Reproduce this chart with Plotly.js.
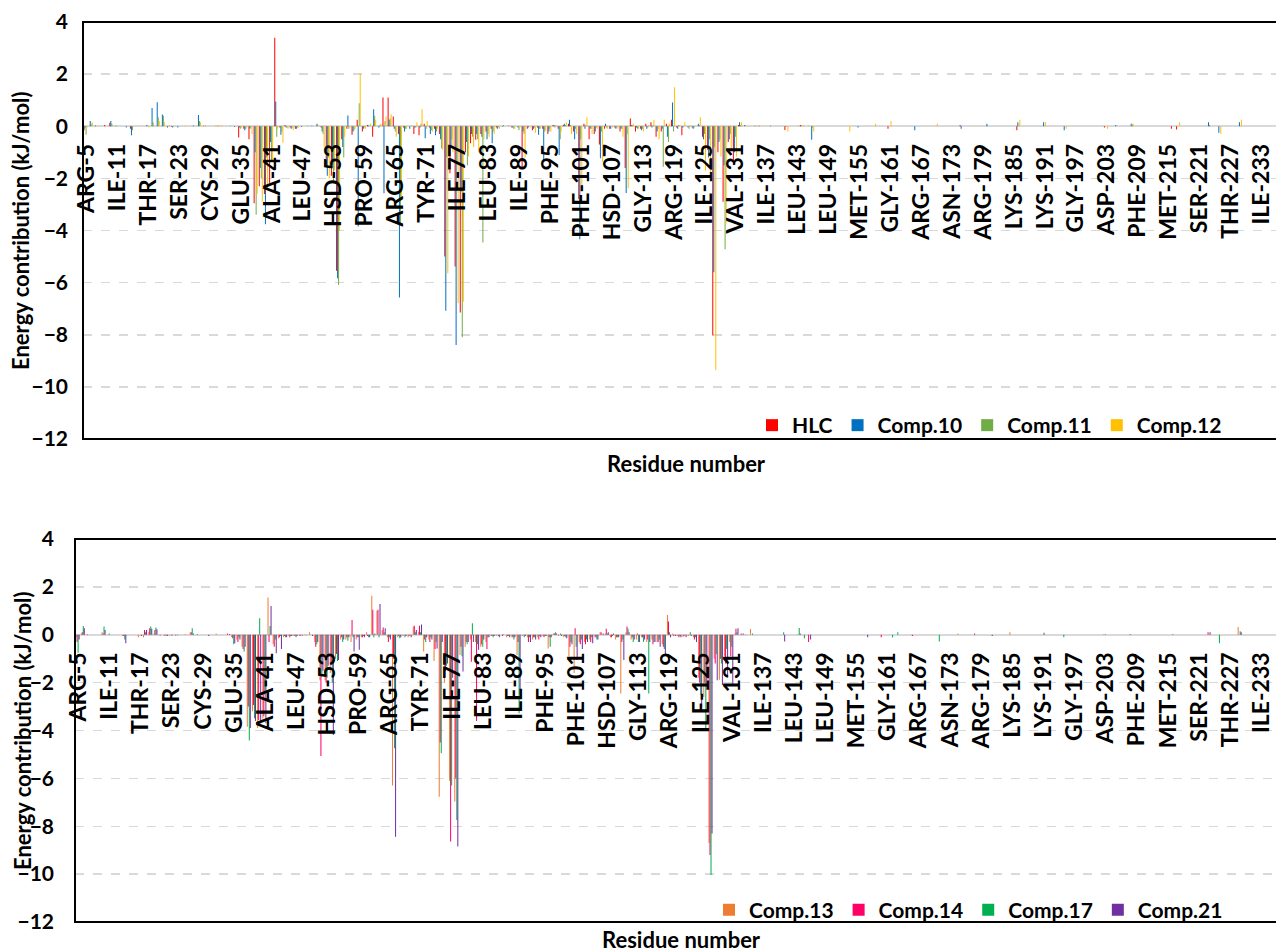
<!DOCTYPE html>
<html>
<head>
<meta charset="utf-8">
<script src="https://cdn.plot.ly/plotly-3.0.1.min.js"></script>
<style>html,body{margin:0;padding:0;background:#fff;}#chart{width:1276px;height:952px;}</style>
</head>
<body>
<div id="chart"></div>
<script>
// Residue index runs from 5 to 235 (category axis)
const firstResidue = 5, lastResidue = 235;
const residues = [];
for (let r = firstResidue; r <= lastResidue; r++) residues.push(r);

// Tick labels shown every 6th residue
const tickLabels = ["ARG-5","ILE-11","THR-17","SER-23","CYS-29","GLU-35","ALA-41","LEU-47","HSD-53","PRO-59",
  "ARG-65","TYR-71","ILE-77","LEU-83","ILE-89","PHE-95","PHE-101","HSD-107","GLY-113","ARG-119",
  "ILE-125","VAL-131","ILE-137","LEU-143","LEU-149","MET-155","GLY-161","ARG-167","ASN-173","ARG-179",
  "LYS-185","LYS-191","GLY-197","ASP-203","PHE-209","MET-215","SER-221","THR-227","ILE-233"];
const tickValues = tickLabels.map(s => Number(s.split("-")[1]));

// ---------- Top panel (kJ/mol), residues 5..235 ----------
const HLC = [
 -0.15,0,0,0,0.05,0.13,0,0,0,-0.1,            // 5-14
 0,0,0,0,0,0,0,-0.03,0,0,                       // 15-24
 0,0,0,0,0,0,0.02,0,0,0,                        // 25-34
 -0.43,-0.1,-0.5,-2.95,-2.3,-2.6,-2.2,3.4,-0.05,0.05, // 35-44
 -0.05,-0.1,0,0,0,0,-0.05,-1.5,-1.9,-5.54,      // 45-54
 -0.5,-0.1,-0.33,0.25,-0.2,0.05,-0.4,0,1.1,1.1, // 55-64
 0.37,-0.3,-0.05,0,-0.3,-0.35,0.1,-0.05,-0.1,-0.3, // 65-74
 -5.0,-1.8,-5.38,-7.15,-1.0,-0.65,-0.52,-0.3,-0.2,-0.1, // 75-84
 -0.05,0,0,-0.05,0,-1.6,-0.1,-0.15,-0.05,-0.1,  // 85-94
 -0.3,0.05,-0.1,0.05,0.1,-0.2,-2.8,0.1,-0.5,-0.3, // 95-104
 -0.7,-0.1,-0.1,-0.05,-0.2,-1.6,0.3,-0.2,-0.1,0.1, // 105-114
 0.15,-0.4,-0.2,0.1,0.25,-0.05,-0.35,0,-0.05,0,  // 115-124
 -0.4,-0.9,-8.03,-1.0,-2.9,-0.6,-1.35,0.05,0,0,  // 125-134
 0,0.02,0,0,0,0,-0.14,0,0,0.05,                  // 135-144
 0,0,0,0,0,0,0,0,0,0,                            // 145-154
 0,0,0,0,0,0,-0.1,0,0,0,                         // 155-164
 0,0,0,0,0,0,0,0,0,0,                            // 165-174
 0.05,0,0,0,0,0,0,0,0,0,                         // 175-184
 0,-0.15,0,0,0,0,0,0,0,0,                        // 185-194
 0,0,0,0,0,0,0,0,-0.05,0,                        // 195-204
 0,0,0,0,0,0,0,0,0,0,                            // 205-214
 0,-0.1,-0.12,0,0,0,0,0,0,0,                     // 215-224
 0,0,0,0,0,0,0,0,0,0,                            // 225-234
 0                                               // 235
];
const COMP10 = [
 -0.05,0.2,0.03,0,0,0.2,0.02,0,-0.05,-0.35,
 0,0,0.05,0.7,0.92,0.45,-0.05,-0.05,-0.05,0,
 0,0.03,0.43,0.02,0,0,0,0,0,-0.03,
 -0.05,-0.15,-0.1,-1.0,-1.6,-3.76,-0.6,0.95,-0.33,-0.05,
 -0.1,-0.1,-0.03,0,0.02,0.1,-0.2,-1.9,-1.5,-5.83,
 -0.8,0.41,-0.2,-3.85,-0.1,0.03,0.65,-0.05,-2.57,0.25,
 -0.1,-6.57,-0.2,-0.1,-0.05,-0.05,-0.46,-0.3,-0.35,-0.5,
 -7.08,-0.8,-8.39,-2.5,-0.6,-0.3,-0.3,-0.4,-0.5,-0.65,
 -0.1,-0.02,0,-0.05,-0.05,-0.2,-0.05,-0.1,-0.33,-1.3,
 -0.2,0.05,-1.1,0.1,0.25,-0.5,-4.34,-0.1,-0.1,-0.2,
 -1.23,0.1,-0.1,-0.1,-0.1,-2.56,0.05,-0.05,-0.15,-0.1,
 -0.05,-0.2,-0.1,-0.4,0.91,-0.1,-0.05,-0.05,-0.1,0.1,
 -0.5,-1.2,-5.6,-0.6,-1.5,-0.5,-1.0,0.15,0.05,0,
 0.02,0,0,0.02,0,0,-0.02,0,0,0.02,
 0,-0.52,0,0,0,0,0,0,0,0,
 -0.05,0,0,0,0,0,0,0,0,0,
 0,-0.15,0,0,0,0,0,0,0,0,
 -0.1,0,0,0,0,0.1,0,0,0,0,
 0,0.15,0,0,0,0,0.15,0,0,0,
 -0.15,0,0,0,0,0,0,0,0,0,
 0.05,0,0,0.1,0,0,0,0,0,0,
 0,0,0,0,0,0,0,0,0.15,0,
 -0.25,0,0,0,0.15,0,0,0,0,0,
 0
];
const COMP11 = [
 -0.33,0.1,0,0,0,0.1,0,0,0,-0.15,
 0,0,0,0.15,0.35,0.4,0,0,0,0,
 0,0,0.2,0,0,0,0,0,0.02,0,
 -0.1,-0.1,-0.05,-3.4,-2.0,-1.2,-1.3,-0.4,-0.2,-0.05,
 -0.05,-0.05,0,0.02,0,0,-0.3,-1.2,-2.2,-6.09,
 -1.2,-0.1,-0.15,0.88,-0.05,0,0.4,0.05,0.2,0.3,
 -0.2,-3.75,-0.1,0,-0.05,0.1,-0.1,-0.15,-0.2,-0.85,
 -1.2,-0.5,-1.5,-8.1,-1.5,-0.4,-0.5,-4.46,-0.3,-0.2,
 -0.05,0.05,0.03,-0.1,-0.15,-0.3,0,-0.05,-0.1,-0.2,
 -0.1,-0.05,-0.5,0.05,0.05,-0.1,-0.5,0.05,-0.1,-0.05,
 -0.2,-0.05,0,-0.05,-0.1,-0.3,0.05,-0.1,-0.1,-0.05,
 0.05,-0.1,-1.55,-0.6,-0.2,0.05,0,-0.1,-0.05,0.05,
 -0.3,-0.5,-0.8,-0.5,-4.72,-0.3,-0.4,0.05,0,0,
 0,0,0,0,0,0,0,0,0,0,
 0,-0.05,0,0,0,0,0,0,0,0,
 0,0,0,0,0,0,0,0,0,0,
 0,0,0,0,0,0,0,0,0,0,
 0,0,0,0,0,0,0,0,0,0,
 0,0,0,0,0,0,0,0,0,0,
 0,0,0,0,0,0,0,0,0,0,
 0,0,0,0.08,0,0,0,0,0,0,
 0,0,0,0,0,0,0,0,0.05,0,
 0,0,0,0,0,0,0,0,0,0,
 0
];
const COMP12 = [
 -0.05,0.15,0.02,0,0,0.03,0,0,0,0,
 0,0.02,-0.05,0.05,0.2,0.15,0.05,-0.02,0,-0.03,
 0,0,0.15,0.05,0,0.05,0.05,0,0,0,
 -0.05,-0.05,-0.3,-2.6,-2.9,-2.45,-1.3,-0.1,-0.63,-0.1,
 -0.15,-0.05,0,0,0,0.05,-0.8,-2.0,-1.7,-4.0,
 -0.4,-0.05,-0.1,2.03,-0.1,0.1,0.25,0.1,0.37,0.46,
 -0.4,-2.8,-0.1,0.05,0.15,0.65,0.2,-0.2,-0.1,-0.9,
 -5.64,-1.0,-6.79,-6.73,-1.16,-0.8,-1.0,-0.5,-0.4,-0.3,
 -0.1,0,0,-0.1,-0.05,-1.2,-0.05,-0.25,-0.1,-0.15,
 -0.2,0.05,-0.2,0.15,-0.3,-0.3,-2.3,0.35,-0.3,-0.1,
 -1.36,-0.1,-0.05,-0.1,-0.4,-2.38,0.1,-0.1,-0.2,0.05,
 0.25,-0.5,0.25,0.1,1.5,0.05,0.15,0.05,0,0.35,
 -1.7,-1.8,-9.35,-1.16,-3.72,-0.85,-1.16,0.15,0.03,0.02,
 0.02,0.02,0,0,0,0,-0.2,0,0.02,0.05,
 0.03,-0.2,0,0,0,0,0,0,-0.2,0,
 0,0,0,0.1,0,0,0.2,0,0,0,
 0,0,0,0,0,0.1,0,0,0,0,
 0,0,0,0,0,0,0,0,0,0,
 0,0.25,0,0,0,0,0.15,0,0,0,
 -0.1,0,0,0,0,0,0,0,-0.1,0,
 0,0,0,0.1,0,0,0,0,0,0,
 0,0,0.15,0,0,0,0,0,0,0,
 -0.3,0,0,0,0.25,0,0,0,0,0,
 0
];

// ---------- Bottom panel (kJ/mol), residues 5..235 ----------
const COMP13 = [
 -0.1,0.05,0,0,0,0.1,0,0,0,-0.05,
 0,0,-0.1,-0.1,0.1,0.05,0,-0.05,-0.03,0,
 0,0.03,0.1,0,0,0,0,0.05,0,0,
 -0.1,-0.2,-0.5,-3.84,-3.2,-3.9,-3.5,1.56,-0.4,-0.15,
 -0.1,-0.05,-0.05,-0.02,-0.02,0.1,-0.3,-1.9,-1.9,-1.6,
 -1.0,-0.2,-0.2,-0.3,-0.2,-0.1,0.1,1.63,1.0,0.2,
 -0.1,-6.3,-0.1,-0.05,-0.1,0.34,0.1,-0.7,-0.2,-1.1,
 -6.77,-2.0,-6.1,-6.97,-0.85,-0.5,-0.2,-0.3,-0.5,-0.3,
 -0.05,-0.05,0,-0.1,-0.1,-0.85,-0.05,-0.1,-0.2,-0.1,
 -0.05,-0.57,0.05,-0.05,-0.1,-0.9,-1.6,-0.3,-0.3,-0.2,
 -0.1,0.1,0.05,-0.1,-0.2,-2.45,0.1,-0.2,-0.2,-0.1,
 -0.3,-0.2,-0.3,-0.4,0.82,0.05,-0.05,-0.1,-0.05,-0.1,
 -1.8,-2.6,-8.7,-1.0,-1.88,-0.9,-0.3,0.05,0,0.02,
 0.24,0,0,0,0,0,0,0,0,0.02,
 0,0,0,0,0,0,0,0,0,0,
 0,0,0,0,0,0,0,0,0,0,
 0,0,0,0,0,0,0,0,0,0,
 0.05,0,0,0,0,0,0,0,0,0,
 0.1,0,0,0,0,0,0,0,0,0,
 0,0,0,0,0,0,0,0,0.02,0,
 0,0,0,0,0,0,0,0,0,0,
 0,0,0,0,0,0,0,0,0,0,
 0,0,0,0,0.32,0,0,0,0,0,
 0
];
const COMP14 = [
 -0.3,0.1,0.02,0,0,0.05,0,0,0,-0.05,
 0,0,0,0.2,0.27,0.2,-0.03,-0.03,0,-0.03,
 0,0,0.1,0,0,0,0,0,0,0.05,
 -0.15,-0.3,-0.6,-3.0,-2.93,-3.56,-3.4,-0.3,-0.5,-0.1,
 -0.05,-0.1,-0.05,-0.05,0,0,-0.5,-5.07,-2.0,-1.2,
 -0.8,-0.1,-0.1,0.62,-0.1,-0.1,-0.05,1.04,1.04,0.3,
 -0.3,-1.0,-0.05,0,-0.05,0.38,0.38,-0.2,-0.3,-0.6,
 -4.5,-1.5,-8.64,-6.0,-0.5,-0.3,-1.13,-3.6,-0.4,-0.6,
 -0.05,0,-0.05,-0.05,-0.1,-0.3,0,-0.3,-0.1,-0.2,
 -0.1,-0.1,0.05,0,-0.05,-0.5,0.27,-0.4,-0.4,-0.3,
 -0.1,0.1,0.25,-0.1,-0.1,-0.3,0.34,-0.1,0.05,-0.1,
 -0.2,-0.4,-0.3,-0.5,0.55,-0.05,-0.1,-0.05,0,-0.2,
 -2.0,-2.0,-9.2,-1.2,-1.0,-1.2,-0.9,0.25,0.05,0,
 0,0,0,0,0,0,0,0,0,0,
 0,-0.3,0,0,0,0,0,0,0,0,
 0,0,0,0,0,-0.1,0,0,0,0,
 0,-0.05,0,0,0,0,0,0,0,0,
 0,0,0,0.05,0,0,0,0,0,0,
 0,0,0,0,0,0,0,0,0,0,
 0,0,0,0,0,0,0,0,0,0,
 0,0,0,0.03,0,0,0,0,0,0,
 0,0,0,0,0,0,0,0,0.1,0,
 0,0,0,0,0,0,0,0,0,0,
 0
];
const COMP17 = [
 -0.75,0.37,0,0,0,0.34,0.05,0,0,-0.2,
 0,0,0,0.1,0.34,0.3,0,-0.02,-0.03,0,
 0,0,0.27,0.03,0,0,0,0,0,0,
 -0.4,-0.1,-0.7,-4.42,-3.49,0.69,-2.5,0.37,-0.2,-0.05,
 -0.1,-0.05,-0.1,0,-0.02,0,-0.4,-1.75,-1.8,-2.0,
 -1.1,-0.3,-0.25,-0.1,-0.1,-0.05,-0.1,-0.1,-0.1,0.1,
 -0.1,-4.74,-0.15,-0.1,0,0.1,0.1,-0.3,-0.1,-0.3,
 -4.95,-1.3,-6.3,-7.74,-0.9,-0.4,0.48,-0.4,-0.5,-0.1,
 -0.1,-0.05,0.02,-0.05,-0.2,-3.28,-0.1,-0.1,-0.1,-0.05,
 -0.05,-0.5,0.1,0.05,-0.1,-0.3,-0.5,-0.2,-0.2,-0.1,
 -0.2,0,0.05,-0.05,-0.1,-0.2,0.25,-0.3,-0.3,-0.3,
 -2.45,-0.3,-0.2,-0.6,0.1,0,-0.05,0,0.1,-0.1,
 -2.5,-3.98,-10.04,-0.8,-1.2,-0.6,-0.5,0.1,0,0,
 0.05,0,0,0,0,0,0.1,0,0,0.28,
 -0.15,0,0,0,0,0,0,0,0,0,
 0,0,0,0,0,0,0,-0.12,0.1,0,
 0,0,0,0,0,0,-0.28,0,0,0,
 0,0,0,0,0,0,0,0,0,0,
 0,0,0,0,0,0,0,0,0,0,
 -0.1,0,0,0,0,0,0,0,0.03,0,
 0,0,0,0,0,0,0,0,0,0,
 0,0.03,0,0,0,0,0,0,0,0,
 -0.35,0,0,0,0.15,0,0,0,0,0,
 0
];
const COMP21 = [
 -0.2,0.27,0,0,0,0.2,0,0,0,-0.36,
 0,0,-0.05,0.2,0.25,0.23,0,-0.05,-0.02,-0.02,
 0,0,0.05,0,0,-0.05,0,0,0,0.03,
 -0.36,-0.2,-0.5,-3.9,-3.6,-3.7,-3.7,1.2,-0.77,-0.6,
 -0.1,-0.05,-0.05,-0.03,0,-0.05,-0.3,-1.5,-1.3,-4.19,
 -1.05,-0.2,-0.1,-0.7,-0.63,-0.1,-0.1,0.05,1.28,0.27,
 -0.2,-8.44,-0.1,-0.05,-0.1,0.2,0.43,-0.1,-0.2,-0.57,
 -0.3,-1.2,-1.8,-8.85,-1.54,-0.3,-0.3,-0.63,-0.2,-0.1,
 -0.05,-0.1,0,-0.1,-0.1,-2.5,-0.05,-0.3,-0.2,-0.1,
 -0.05,-0.1,0.05,-0.05,-0.15,-0.4,-1.05,-0.6,-0.3,-0.35,
 -0.2,0.05,0.1,0.05,-0.1,-1.05,0.1,-0.2,-0.3,-0.2,
 -0.3,-0.3,-0.5,-0.8,-0.1,-0.05,-0.1,-0.1,-0.05,-0.3,
 -3.07,-2.3,-8.3,-1.9,-2.1,-1.75,-2.1,0.27,0.05,0,
 0,0,0,0,0,0,-0.28,0,0,0.05,
 0,-0.2,0,0,0,0,0,0,0,0,
 0,0,-0.1,0,0,0,0,0,0,0,
 0,0,0,0,0,0,0,0,0,0,
 0,0,0,0,0,0,-0.05,0,0,0,
 0,0,0,0,0,0,0.08,0,0,0,
 0,0,0,0,0,0,0,0,0,0,
 0,0,0,0,0,0,0,0,0,0,
 0,0,0,0,0,0,0,0,0.1,0,
 0,0,0,0,0.1,0,0,0,0,0,
 0
];

const topSeries = [
  {name: "HLC", values: HLC, color: "#FF0000"},
  {name: "Comp.10", values: COMP10, color: "#0070C0"},
  {name: "Comp.11", values: COMP11, color: "#70AD47"},
  {name: "Comp.12", values: COMP12, color: "#FFC000"}
];
const bottomSeries = [
  {name: "Comp.13", values: COMP13, color: "#ED7D31"},
  {name: "Comp.14", values: COMP14, color: "#FF0066"},
  {name: "Comp.17", values: COMP17, color: "#00B050"},
  {name: "Comp.21", values: COMP21, color: "#7030A0"}
];
[...topSeries, ...bottomSeries].forEach(s => {
  if (s.values.length !== residues.length) throw new Error(s.name + " length " + s.values.length);
});

const W = 1276, H = 952;
const px = v => v / W;          // pixel -> paper x
const py = v => 1 - v / H;      // pixel -> paper y
const FONT = "Lato, 'Open Sans', sans-serif";

const traces = [];
topSeries.forEach(s => traces.push({
  type: "bar", x: residues, y: s.values, name: s.name,
  marker: {color: s.color, line: {width: 0}},
  xaxis: "x", yaxis: "y", legend: "legend"
}));
bottomSeries.forEach(s => traces.push({
  type: "bar", x: residues, y: s.values, name: s.name,
  marker: {color: s.color, line: {width: 0}},
  xaxis: "x2", yaxis: "y2", legend: "legend2"
}));

const xTickFont = {family: FONT, size: 23, color: "#000", weight: "bold"};
const yTickFont = {family: FONT, size: 21, color: "#000", weight: "bold"};
function xAxis(left, zeroPx) {
  return {
    domain: [px(left), 1], range: [4.5, 236], anchor: "free", position: py(zeroPx),
    tickmode: "array", tickvals: tickValues, ticktext: tickLabels, tickangle: -90,
    tickfont: xTickFont, ticks: "", showgrid: false, zeroline: false, showline: false,
    ticklabelstandoff: 12, ticklabelshift: 1, ticklabeloverflow: "allow", fixedrange: true
  };
}
function yAxis(topPx, botPx, anchor, standoff) {
  return {
    domain: [py(botPx), py(topPx)], range: [-12, 4], tick0: 0, dtick: 2, anchor: anchor,
    tickfont: yTickFont, ticks: "", showline: false,
    showgrid: true, gridcolor: "#d9d9d9", gridwidth: 1.5, griddash: "dash",
    zeroline: true, zerolinecolor: "#d9d9d9", zerolinewidth: 2,
    ticklabelstandoff: standoff, ticklabeloverflow: "allow", fixedrange: true
  };
}

const legendBase = {
  orientation: "h", xanchor: "left", yanchor: "middle",
  font: {family: FONT, size: 21, color: "#000", weight: "bold"},
  bgcolor: "rgba(0,0,0,0)", borderwidth: 0, traceorder: "normal"
};

const titleFont = {family: FONT, size: 22, color: "#000", weight: "bold"};

const layout = {
  width: W, height: H,
  margin: {l: 0, r: 0, t: 0, b: 0},
  paper_bgcolor: "#fff", plot_bgcolor: "rgba(0,0,0,0)",
  font: {family: FONT, color: "#000"},
  barmode: "group", bargap: 0.22, bargroupgap: 0,
  xaxis: xAxis(83, 126.3),
  yaxis: yAxis(22, 439, "x", 14),
  xaxis2: xAxis(75, 634.8),
  yaxis2: yAxis(539, 922, "x2", 20),
  legend: Object.assign({}, legendBase, {x: px(752), y: py(425.5)}),
  legend2: Object.assign({}, legendBase, {x: px(709), y: py(910)}),
  shapes: [
    {type: "rect", xref: "paper", yref: "paper", x0: px(83), x1: 1.02, y0: py(439), y1: py(22),
     line: {color: "#000", width: 2}, fillcolor: "rgba(0,0,0,0)", layer: "above"},
    {type: "rect", xref: "paper", yref: "paper", x0: px(75), x1: 1.02, y0: py(922), y1: py(539),
     line: {color: "#000", width: 2}, fillcolor: "rgba(0,0,0,0)", layer: "above"}
  ],
  annotations: [
    {text: "Residue number", xref: "paper", yref: "paper", x: px(686), y: py(463),
     showarrow: false, font: titleFont, xanchor: "center", yanchor: "middle"},
    {text: "Residue number", xref: "paper", yref: "paper", x: px(681), y: py(939),
     showarrow: false, font: titleFont, xanchor: "center", yanchor: "middle"},
    {text: "Energy contribution (kJ/mol)", xref: "paper", yref: "paper", x: px(20), y: py(231),
     showarrow: false, font: titleFont, textangle: -90, xanchor: "center", yanchor: "middle"},
    {text: "Energy contribution (kJ/mol)", xref: "paper", yref: "paper", x: px(22), y: py(731),
     showarrow: false, font: titleFont, textangle: -90, xanchor: "center", yanchor: "middle"}
  ],
  showlegend: true
};

Plotly.newPlot("chart", traces, layout, {displayModeBar: false, staticPlot: true});
</script>
</body>
</html>
